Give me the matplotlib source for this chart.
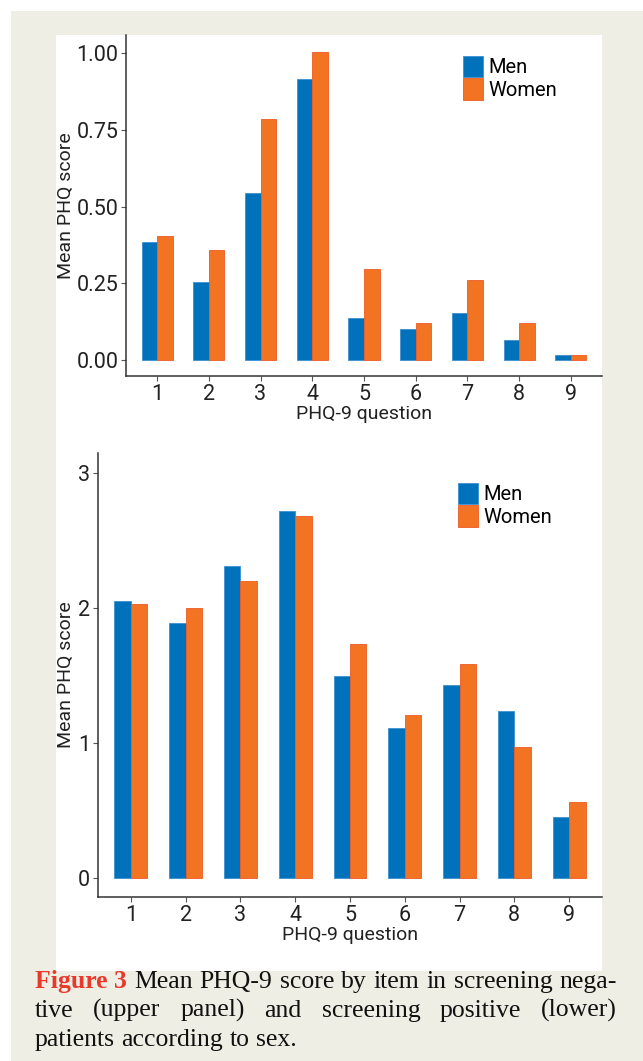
import numpy as np
import matplotlib.pyplot as plt
from matplotlib.patches import Rectangle
from matplotlib.transforms import IdentityTransform

# ---------------------------- data
questions = ['1', '2', '3', '4', '5', '6', '7', '8', '9']
groups = ['Men', 'Women']

# screening negative (upper panel)
neg_men = [0.384, 0.253, 0.546, 0.917, 0.136, 0.100, 0.152, 0.067, 0.018]
neg_women = [0.405, 0.358, 0.786, 1.006, 0.297, 0.121, 0.260, 0.121, 0.018]
neg_ticks = [0.00, 0.25, 0.50, 0.75, 1.00]

# screening positive (lower panel)
pos_men = [2.05, 1.89, 2.31, 2.72, 1.50, 1.11, 1.43, 1.24, 0.45]
pos_women = [2.03, 2.00, 2.20, 2.68, 1.735, 1.205, 1.585, 0.97, 0.565]
pos_ticks = [0, 1, 2, 3]

caption_lines = [
    'Mean PHQ-9 score by item in screening nega-',
    'tive (upper panel) and screening positive (lower)',
    'patients according to sex.',
]

# ---------------------------- style
blue = '#0071bb'
orange = '#f27321'
beige = '#efeee4'
sans = ['Liberation Sans Narrow', 'Roboto', 'DejaVu Sans']
serif = ['Liberation Serif', 'DejaVu Serif']

W, H = 643, 1061
fig = plt.figure(figsize=(W / 100, H / 100), dpi=100, facecolor='white')


def px_rect(x0, y0, x1, y1):
    # rectangle in pixel coords (origin top-left) -> figure fraction
    return [x0 / W, 1 - y1 / H, (x1 - x0) / W, (y1 - y0) / H]


# beige page + white chart panel
fig.patches.append(Rectangle((11 / W, 0), 1, 1 - 11 / H, transform=fig.transFigure,
                             facecolor=beige, edgecolor='none', zorder=-2))
fig.patches.append(Rectangle((56.5 / W, 1 - 971 / H), (602 - 56.5) / W, (971 - 35) / H,
                             transform=fig.transFigure, facecolor='white',
                             edgecolor='none', zorder=-1))


def panel(rect, men, women, ticks, ylim, ticklabels, legend_px):
    ax = fig.add_axes(px_rect(*rect))
    ax.set_facecolor('none')
    x = np.arange(1, len(questions) + 1)
    w = 0.3
    ax.bar(x - w / 2, men, w, color=blue, edgecolor='#3d8fd0', linewidth=0.6, label=groups[0])
    ax.bar(x + w / 2, women, w, color=orange, edgecolor='#ef5a24', linewidth=0.6, label=groups[1])
    ax.set_xlim(0.4, 9.6)
    ax.set_ylim(*ylim)
    ax.set_xticks(x)
    ax.set_xticklabels(questions)
    ax.set_yticks(ticks)
    ax.set_yticklabels(ticklabels)
    for s in ['top', 'right']:
        ax.spines[s].set_visible(False)
    for s in ['left', 'bottom']:
        ax.spines[s].set_color('#333333')
        ax.spines[s].set_linewidth(1.1)
    ax.tick_params(length=3.5, width=0.8, color='#555555', pad=2,
                   labelsize=15.5, labelcolor='#222222')
    for lab in ax.get_xticklabels() + ax.get_yticklabels():
        lab.set_family(sans)
    ax.legend(loc='upper left', bbox_to_anchor=legend_px, bbox_transform=fig.transFigure,
              frameon=False, prop={'family': sans, 'size': 14.5},
              handlelength=1.0, handleheight=1.25, handletextpad=0.25,
              labelspacing=0.05, borderpad=0, borderaxespad=0)
    return ax


ax1 = panel((126, 35, 602, 376), neg_men, neg_women, neg_ticks, (-0.052, 1.06),
            ['0.00', '0.25', '0.50', '0.75', '1.00'], (463 / W, 1 - 56 / H))
ax2 = panel((98, 453, 602, 897), pos_men, pos_women, pos_ticks, (-0.14, 3.15),
            ['0', '1', '2', '3'], (458 / W, 1 - 483 / H))

# axis titles
for cx, cy in [(364, 414), (350, 935)]:
    fig.text(cx / W, 1 - cy / H, 'PHQ-9 question', ha='center', va='center',
             family=sans, size=14, color='#222222')
for cx, cy in [(66, 206), (66, 675)]:
    fig.text(cx / W, 1 - cy / H, 'Mean PHQ score', ha='center', va='center',
             rotation=90, family=sans, size=14, color='#222222')

# ---------------------------- caption (justified)
cap_size = 18.5
x_left, x_right = 35, 617
baselines = [988, 1017, 1046]
renderer = fig.canvas.get_renderer()


def word_list(i):
    words = caption_lines[i].split(' ')
    if i == 0:
        return [('Figure 3', True)] + [(w, False) for w in words]
    return [(w, False) for w in words]


# natural width of a space at this size
probe2 = fig.text(0, 0, 'a a', family=serif, size=cap_size)
probe1 = fig.text(0, 0, 'aa', family=serif, size=cap_size)
space = probe2.get_window_extent(renderer).width - probe1.get_window_extent(renderer).width
probe2.remove()
probe1.remove()

for i, base in enumerate(baselines):
    items = word_list(i)
    texts = []
    for w, is_fig in items:
        t = fig.text(0, H - base, w, transform=IdentityTransform(), va='baseline',
                     ha='left', family=serif, size=cap_size,
                     color='#e8392b' if is_fig else '#111111',
                     weight='bold' if is_fig else 'normal')
        texts.append(t)
    widths = [t.get_window_extent(renderer).width for t in texts]
    if i < 2:
        gap = (x_right - x_left - sum(widths)) / (len(texts) - 1)
    else:
        gap = space
    xpos = x_left
    for t, wd in zip(texts, widths):
        t.set_x(xpos)
        xpos += wd + gap

fig.savefig('out.png', dpi=100)
